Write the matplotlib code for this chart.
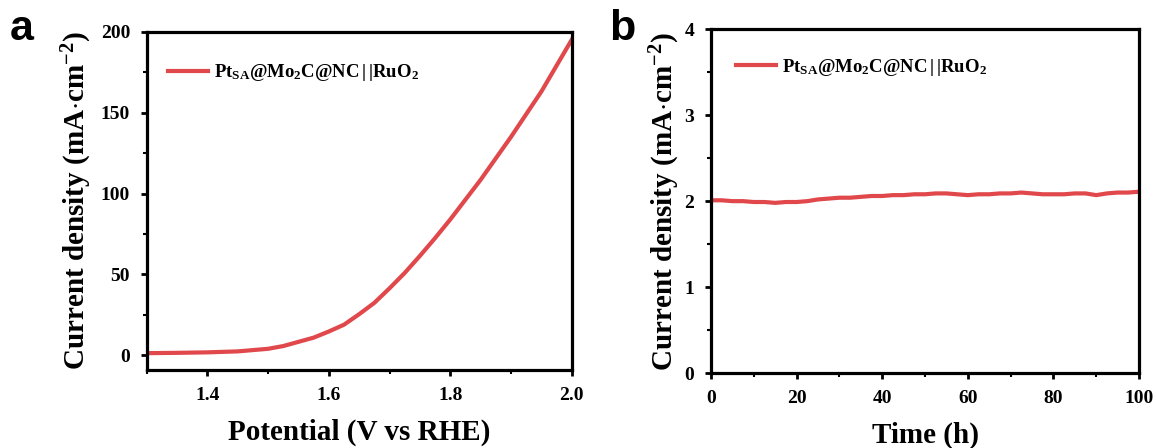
import numpy as np
import matplotlib
matplotlib.use("Agg")
import matplotlib.pyplot as plt
from matplotlib.ticker import MultipleLocator

plt.rcParams['font.family'] = ['Liberation Serif', 'DejaVu Serif']
plt.rcParams['font.weight'] = 'bold'
plt.rcParams['mathtext.fontset'] = 'custom'
plt.rcParams['mathtext.rm'] = 'Liberation Serif:bold'
plt.rcParams['mathtext.it'] = 'Liberation Serif:bold'
plt.rcParams['mathtext.bf'] = 'Liberation Serif:bold'

# polarization curve (two-electrode cell)
potential = [1.30, 1.35, 1.40, 1.45, 1.50, 1.525, 1.55, 1.575, 1.60, 1.625,
             1.65, 1.675, 1.70, 1.725, 1.75, 1.775, 1.80, 1.85, 1.90, 1.95, 2.00]
current = [1.4, 1.6, 1.9, 2.5, 4.1, 5.8, 8.4, 11.0, 14.8, 19.0,
           25.5, 32.5, 41.5, 51.0, 61.5, 72.5, 84.0, 108.5, 135.0, 163.0, 195.0]

# chronopotentiometry stability run
time_h = [0, 2.5, 5, 7.5, 10, 12.5, 15, 17.5, 20, 22.5, 25, 27.5, 30, 32.5,
          35, 37.5, 40, 42.5, 45, 47.5, 50, 52.5, 55, 57.5, 60, 62.5, 65,
          67.5, 70, 72.5, 75, 77.5, 80, 82.5, 85, 87.5, 90, 92.5, 95, 97.5, 100]
stability = [2.01, 2.01, 2.00, 2.00, 1.99, 1.99, 1.98, 1.99, 1.99, 2.00,
             2.02, 2.03, 2.04, 2.04, 2.05, 2.06, 2.06, 2.07, 2.07, 2.08,
             2.08, 2.09, 2.09, 2.08, 2.07, 2.08, 2.08, 2.09, 2.09, 2.10,
             2.09, 2.08, 2.08, 2.08, 2.09, 2.09, 2.07, 2.09, 2.10, 2.10, 2.11]

label = r'Pt$_{\rm SA}$@Mo$_2$C@NC$\,$|$\,$|RuO$_2$'
ylab = r'Current density (mA$\cdot$cm$^{-2}$)'
red = '#E0484B'

W, H = 1156, 448
fig = plt.figure(figsize=(W / 100, H / 100), dpi=100)
ax1 = fig.add_axes([146.7 / W, 1 - 370 / H, 425 / W, 338.3 / H])
ax2 = fig.add_axes([711 / W, 1 - 373 / H, 428 / W, 343.7 / H])

ax1.plot(potential, current, color=red, lw=3, label=label)
ax1.set_xlim(1.3, 2.0)
ax1.set_ylim(-9, 200)
ax1.xaxis.set_major_locator(MultipleLocator(0.2))
ax1.xaxis.set_minor_locator(MultipleLocator(0.1))
ax1.yaxis.set_major_locator(MultipleLocator(50))
ax1.yaxis.set_minor_locator(MultipleLocator(25))
ax1.set_xlabel('Potential (V vs RHE)', fontsize=21, fontweight='bold')
ax1.set_ylabel(ylab, fontsize=21, fontweight='bold')

ax2.plot(time_h, stability, color=red, lw=3, label=label)
ax2.set_xlim(0, 100)
ax2.set_ylim(0, 4)
ax2.xaxis.set_major_locator(MultipleLocator(20))
ax2.xaxis.set_minor_locator(MultipleLocator(10))
ax2.yaxis.set_major_locator(MultipleLocator(1))
ax2.yaxis.set_minor_locator(MultipleLocator(0.5))
ax2.set_xlabel('Time (h)', fontsize=21, fontweight='bold')
ax2.set_ylabel(ylab, fontsize=21, fontweight='bold')

legend_pos = {ax1: (0.05, 0.878), ax2: (0.058, 0.89)}
for ax in (ax1, ax2):
    for s in ax.spines.values():
        s.set_linewidth(2.3)
    ax.tick_params(which='major', direction='out', length=4, width=2, labelsize=14, pad=8)
    ax.tick_params(which='minor', direction='out', length=3, width=1.5)
    for t in ax.get_xticklabels() + ax.get_yticklabels():
        t.set_fontweight('bold')
    ax.legend(loc='center left', bbox_to_anchor=legend_pos[ax], frameon=False,
              fontsize=13.5, handlelength=2.15, handletextpad=0.3,
              borderpad=0, borderaxespad=0)
    ax.xaxis.labelpad = 11
ax1.yaxis.labelpad = 5
ax2.yaxis.labelpad = 2

fig.text(10 / W, 1 - 40 / H, 'a', fontsize=31, fontweight='bold', family='Liberation Sans')
fig.text(609 / W, 1 - 40 / H, 'b', fontsize=31, fontweight='bold', family='Liberation Sans')

fig.savefig('out.png', dpi=100)
